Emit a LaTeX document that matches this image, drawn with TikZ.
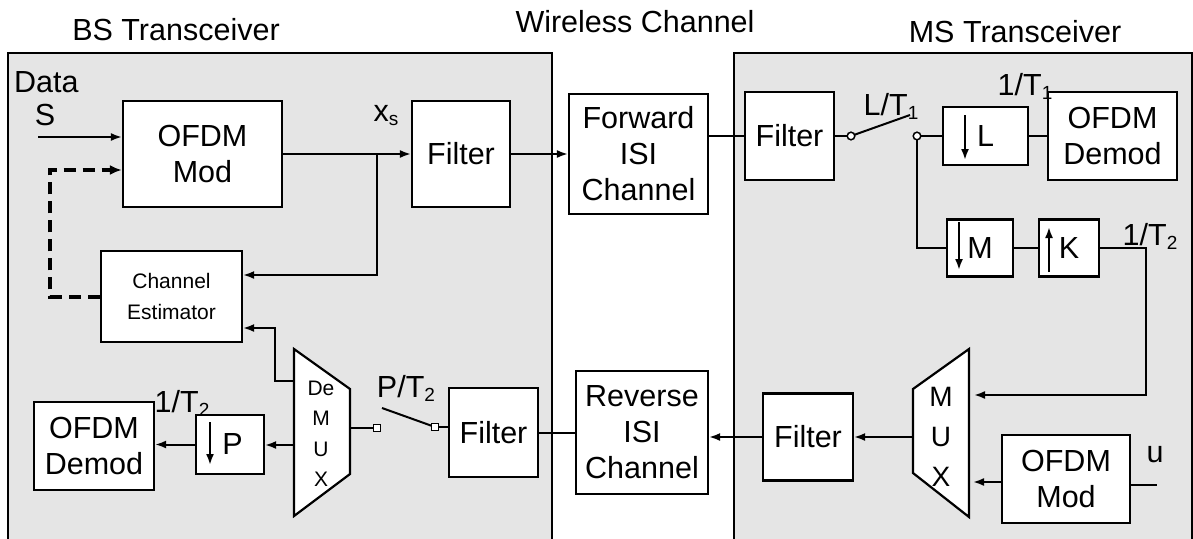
\documentclass[tikz,border=0pt]{standalone}
\usepackage{fontspec}
\setmainfont{Liberation Sans}
\usetikzlibrary{arrows.meta,calc}
\definecolor{panelgray}{RGB}{229,229,229}
\newcommand\bigf{\fontsize{30.5}{36}\selectfont}
\newcommand\midf{\fontsize{21}{31}\selectfont}
\newcommand\subf[1]{\raisebox{-4pt}{\fontsize{19}{19}\selectfont #1}}
\begin{document}
\begin{tikzpicture}[x=1pt,y=-1pt,
 blk/.style={draw, fill=white, line width=2.2pt, inner sep=0pt, align=center, font=\bigf},
 wire/.style={line width=2pt},
 arr/.style={wire, -{Latex[length=11pt,width=8pt]}},
 dsh/.style={line width=4pt, dash pattern=on 12pt off 7pt, -{Latex[length=12pt,width=10pt]}},
 lbl/.style={font=\bigf, inner sep=0pt},
 panel/.style={fill=panelgray, draw, line width=2.2pt},
 trap/.style={draw, fill=white, line width=2.2pt},
 ]
\useasboundingbox (0,0) rectangle (1193,538);

% panels
\path[panel] (8,545) -- (8,53) -- (552,53) -- (552,545);
\path[panel] (734,545) -- (734,53) -- (1192,53) -- (1192,545);

% titles
\node[lbl] (tbs) at (176,30) {BS Transceiver};
\node[lbl] (twc) at (635,22) {Wireless Channel};
\node[lbl] (tms) at (1015,32) {MS Transceiver};

% BS blocks
\node[blk, minimum width=159pt, minimum height=106pt] (bsmod) at (202.5,154) {OFDM\\Mod};
\node[blk, minimum width=98pt, minimum height=106pt] (bsfilt) at (461,154) {Filter};
\node[blk, minimum width=141pt, minimum height=91pt, font=\midf] (est) at (171.5,296.5) {Channel\\Estimator};
\node[blk, minimum width=89pt, minimum height=89pt] (bsfilt2) at (493.5,432.5) {Filter};
\node[blk, minimum width=68pt, minimum height=59pt] (pbox) at (230,444.5) {\hspace{5pt}P};
\node[blk, minimum width=120pt, minimum height=88pt] (bsdemod) at (94,446) {OFDM\\Demod};

% channel blocks
\node[blk, minimum width=139pt, minimum height=120pt] (fisi) at (638.5,154) {Forward\\ISI\\Channel};
\node[blk, minimum width=132pt, minimum height=123pt] (risi) at (642,432.5) {Reverse\\ISI\\Channel};

% MS blocks
\node[blk, minimum width=89pt, minimum height=88pt] (msfilt) at (789.5,136) {Filter};
\node[blk, minimum width=85pt, minimum height=58pt] (lbox) at (985.5,136) {L};
\node[blk, minimum width=129pt, minimum height=88pt] (msdemod) at (1112.5,136) {OFDM\\Demod};
\node[blk, minimum width=66pt, minimum height=57pt] (mbox) at (980,248) {M};
\node[blk, minimum width=60pt, minimum height=57pt] (kbox) at (1069,248) {K};
\node[blk, minimum width=90pt, minimum height=87pt] (msfilt2) at (808,437) {Filter};
\node[blk, minimum width=128pt, minimum height=88pt] (msmod) at (1066,479) {OFDM\\Mod};

% DeMUX and MUX
\draw[trap] (294,349) -- (350,389) -- (350,474) -- (294,516) -- cycle;
\node[font=\fontsize{21}{30.5}\selectfont, align=center, inner sep=0pt] (demux) at (321,434) {De\\M\\U\\X};
\draw[trap] (913,389) -- (969,349) -- (969,517) -- (913,473) -- cycle;
\node[font=\fontsize{28}{40}\selectfont, align=center, inner sep=0pt] (mux) at (941,437) {M\\U\\X};

% coordinates
\coordinate (sin) at (38,137);
\coordinate (dk) at (50,170);
\coordinate (br) at (377,154);
\coordinate (c1) at (851,136);
\coordinate (c2) at (917,136);
\coordinate (swend) at (910,115);
\coordinate (kt) at (1146,395);
\coordinate (muxin1) at (974,395);
\coordinate (muxin2) at (973,482);
\coordinate (muxout) at (913,437);
\coordinate (uend) at (1157,485);
\coordinate (s2) at (435,427);
\coordinate (s1) at (377,428);
\coordinate (swB) at (382,408);
\coordinate (dmxR) at (350,428);
\coordinate (dmxL1) at (294,381);
\coordinate (dmxL2) at (294,445);
\coordinate (dk2) at (275,381);

% BS connections
\draw[arr] (sin) -- (sin -| bsmod.west);
\draw[dsh] (est.west) -| (dk) -- (dk -| bsmod.west);
\draw[arr] (bsmod.east) -- (bsfilt.west);
\draw[arr] (br) |- ([yshift=21.5pt]est.east);
\draw[arr] (bsfilt.east) -- (fisi.west);
\draw[wire] (fisi.east |- msfilt.west) -- (msfilt.west);

% MS forward path
\draw[wire] (msfilt.east) -- (c1);
\draw[wire] (c1) -- (swend);
\draw[wire] (c2) -- (lbox.west);
\draw[wire] (lbox.east) -- (msdemod.west);
\draw[wire] (c2) |- (mbox.west);
\draw[wire] (mbox.east) -- (kbox.west);
\draw[arr] (kbox.east) -| (kt) -- (muxin1);
\draw[arr] (msmod.west |- muxin2) -- (muxin2);
\draw[wire] (msmod.east |- uend) -- (uend);
\draw[arr] (muxout) -- (muxout -| msfilt2.east);
\draw[arr] (msfilt2.west) -- (msfilt2.west -| risi.east);
\draw[wire] (risi.west) -- (risi.west -| bsfilt2.east);
\draw[wire] (bsfilt2.west |- s2) -- (s2);
\draw[wire] (swB) -- (s2);
\draw[wire] (dmxR) -- (s1);
\draw[arr] (dmxL1) -- (dk2) |- ([yshift=-31.5pt]est.east);
\draw[arr] (dmxL2) -- (dmxL2 -| pbox.east);
\draw[arr] (pbox.west) -- (pbox.west -| bsdemod.east);

% switch terminals
\draw[line width=1.5pt, fill=white] (c1) circle[radius=3.8pt];
\draw[line width=1.5pt, fill=white] (c2) circle[radius=3.8pt];
\draw[line width=1.4pt, fill=white] ($(s1)+(-3.5,-3.5)$) rectangle ($(s1)+(3.5,3.5)$);
\draw[line width=1.4pt, fill=white] ($(s2)+(-3.5,-3.5)$) rectangle ($(s2)+(3.5,3.5)$);

% rate-change arrows
\draw[arr] ($(lbox.center)+(-20.5,-21)$) -- ($(lbox.center)+(-20.5,24)$);
\draw[arr] ($(mbox.center)+(-21,-26)$) -- ($(mbox.center)+(-21,22)$);
\draw[arr] ($(kbox.center)+(-20,24)$) -- ($(kbox.center)+(-20,-21)$);
\draw[arr] ($(pbox.center)+(-20,-22.5)$) -- ($(pbox.center)+(-20,20.5)$);

% labels
\node[lbl, anchor=west] (data) at (14,82) {Data};
\node[lbl] (slab) at (45,115) {S};
\node[lbl] (xs) at (386,116) {x\subf{s}};
\node[lbl] (pt2) at (406,388) {P/T\subf{2}};
\node[lbl] (lt1) at (891,106) {L/T\subf{1}};
\node[lbl] (t1a) at (1025,86) {1/T\subf{1}};
\node[lbl] (t2a) at (1150,236) {1/T\subf{2}};
\node[lbl] (t2b) at (182,403) {1/T\subf{2}};
\node[lbl] (ulab) at (1155,455) {u};
\end{tikzpicture}
\end{document}
